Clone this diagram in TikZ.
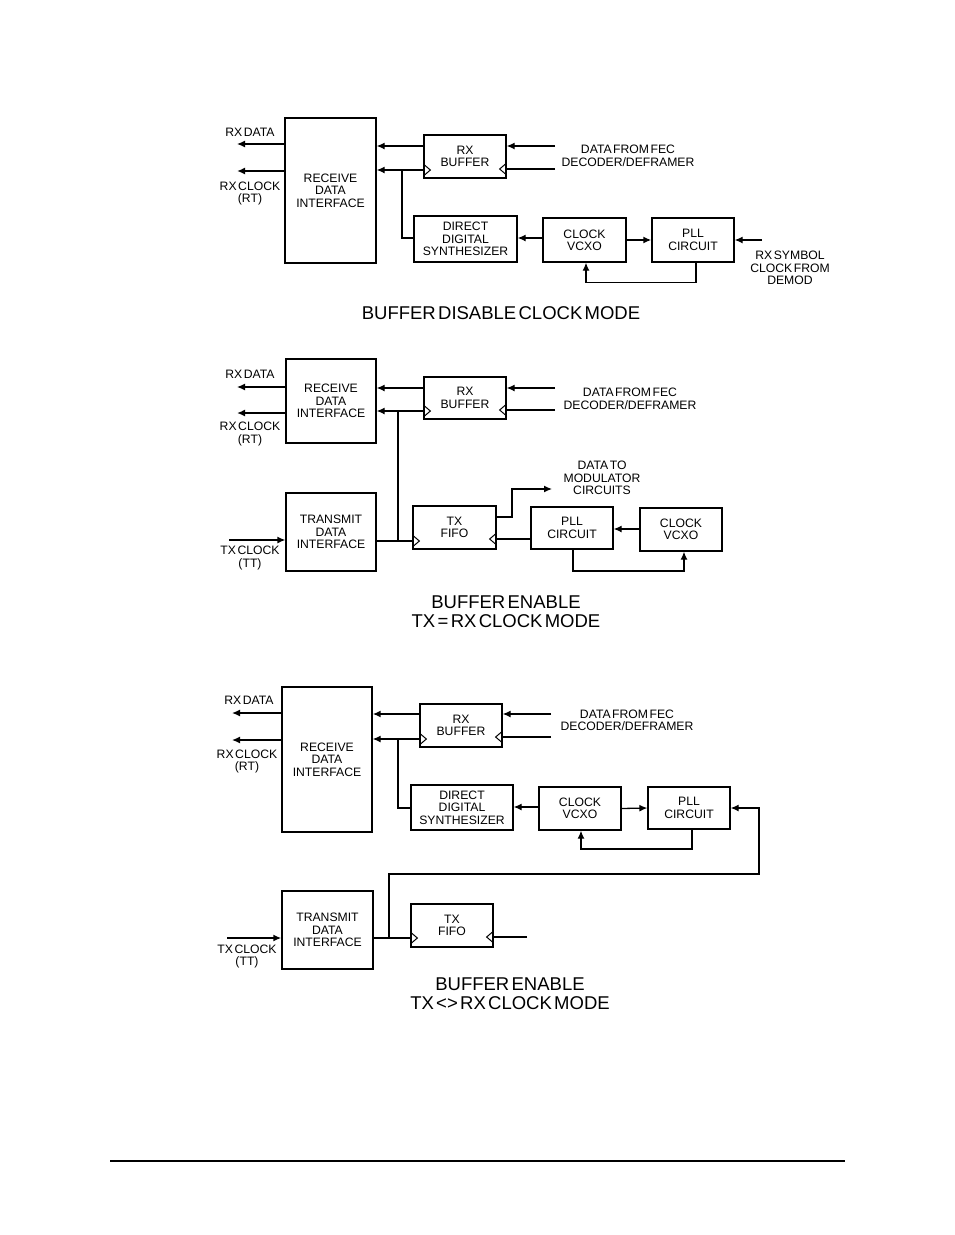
\documentclass[tikz,border=0pt]{standalone}
\usepackage{fontspec}
\setmainfont{Liberation Sans}[WordSpace=0.45]
\usetikzlibrary{arrows.meta}

\begin{document}
\begin{tikzpicture}[x=1pt,y=-1pt,
    blk/.style={draw,line width=1.3pt,inner sep=0pt,align=center,font=\fontsize{12.2}{12.3}\selectfont},
    lbl/.style={inner sep=0pt,align=center,font=\fontsize{12.2}{12.5}\selectfont},
    modetxt/.style={inner sep=0pt,align=center,font=\fontsize{18.5}{18.5}\selectfont},
    wire/.style={line width=1.3pt},
    twire/.style={line width=2.6pt},
    arr/.style={wire,-{Latex[length=8pt,width=7pt]}},
    tarr/.style={twire,-{Latex[length=8pt,width=7pt]}},
    clk/.pic={\draw[line width=1pt] (0,-6) -- (7,0) -- (0,6);},
    ]
  \useasboundingbox (0,0) rectangle (954,1235);

  % buffer disable clock mode
  \node[blk,minimum width=91pt,minimum height=145pt] (rdiA) at (330.5,190.5) {RECEIVE\\DATA\\INTERFACE};
  \node[blk,minimum width=82pt,minimum height=43pt] (rxbufA) at (465,156.5) {RX\\BUFFER};
  \node[blk,minimum width=103pt,minimum height=46pt] (ddsA) at (465.5,239) {DIRECT\\DIGITAL\\SYNTHESIZER};
  \node[blk,minimum width=83pt,minimum height=44pt] (vcxoA) at (584.5,240) {CLOCK\\VCXO};
  \node[blk,minimum width=82pt,minimum height=44pt] (pllA) at (693,240) {PLL\\CIRCUIT};

  \node[lbl] (rxdA) at (250,132.5) {RX DATA};
  \node[lbl] (rxcA) at (250,193.5) {RX CLOCK\\(RT)};
  \node[lbl] (fecA) at (628,156) {DATA FROM FEC\\DECODER/DEFRAMER};
  \node[lbl] (symA) at (790,268) {RX SYMBOL\\CLOCK FROM\\DEMOD};
  \node[modetxt] (modeA) at (501,313) {BUFFER DISABLE CLOCK MODE};

  \coordinate (outA1) at (237,144);
  \coordinate (outA2) at (237,171);
  \coordinate (inA1) at (555,146);
  \coordinate (inA2) at (555,169);
  \coordinate (inA3) at (762,240);
  \coordinate (brA) at (402,170);

  \draw[arr] (rdiA.west |- outA1) -- (outA1);
  \draw[tarr] (rdiA.west |- outA2) -- (outA2);
  \draw[arr] (rxbufA.west |- 0,146) -- (rdiA.east |- 0,146);
  \draw[arr] (rxbufA.west |- 0,170) -- (rdiA.east |- 0,170);
  \draw[wire] (brA) |- (ddsA.west |- 0,238);
  \draw[arr] (inA1) -- (rxbufA.east |- inA1);
  \draw[wire] (inA2) -- (rxbufA.east |- inA2);
  \pic at (rxbufA.west |- 0,170) {clk};
  \pic[xscale=-1] at (rxbufA.east |- inA2) {clk};
  \draw[arr] (vcxoA.west |- 0,238) -- (ddsA.east |- 0,238);
  \draw[tarr] (vcxoA.east) -- (pllA.west);
  \draw[arr] ([xshift=3pt]pllA.south) -- ++(0,20) -| ([xshift=1.5pt]vcxoA.south);
  \draw[arr] (inA3) -- (pllA.east);

  % buffer enable, tx = rx
  \node[blk,minimum width=90pt,minimum height=84pt] (rdiB) at (331,401) {RECEIVE\\DATA\\INTERFACE};
  \node[blk,minimum width=82pt,minimum height=42pt] (rxbufB) at (465,398) {RX\\BUFFER};
  \node[blk,minimum width=90pt,minimum height=78pt] (tdiB) at (331,532) {TRANSMIT\\DATA\\INTERFACE};
  \node[blk,minimum width=83pt,minimum height=43pt] (fifoB) at (454.5,527.5) {TX\\FIFO};
  \node[blk,minimum width=82pt,minimum height=42pt] (pllB) at (572,528) {PLL\\CIRCUIT};
  \node[blk,minimum width=82pt,minimum height=43pt] (vcxoB) at (681,529.5) {CLOCK\\VCXO};

  \node[lbl] (rxdB) at (250,374) {RX DATA};
  \node[lbl] (rxcB) at (250,434) {RX CLOCK\\(RT)};
  \node[lbl] (txcB) at (250,558) {TX CLOCK\\(TT)};
  \node[lbl] (fecB) at (630,399) {DATA FROM FEC\\DECODER/DEFRAMER};
  \node[lbl] (modB) at (602,478) {DATA TO\\MODULATOR\\CIRCUITS};
  \node[modetxt] (modeB) at (506,611.5) {BUFFER ENABLE\\TX = RX CLOCK MODE};

  \coordinate (outB1) at (237,387);
  \coordinate (outB2) at (237,413);
  \coordinate (inB1) at (555,388);
  \coordinate (inB2) at (555,410);
  \coordinate (txinB) at (229,540);
  \coordinate (brB) at (398,411);
  \coordinate (dmodB) at (552,489);

  \draw[arr] (rdiB.west |- outB1) -- (outB1);
  \draw[tarr] (rdiB.west |- outB2) -- (outB2);
  \draw[arr] (rxbufB.west |- 0,388) -- (rdiB.east |- 0,388);
  \draw[arr] (rxbufB.west |- brB) -- (rdiB.east |- brB);
  \draw[wire] (brB) -- (brB |- 0,541);
  \draw[arr] (inB1) -- (rxbufB.east |- inB1);
  \draw[wire] (inB2) -- (rxbufB.east |- inB2);
  \pic at (rxbufB.west |- brB) {clk};
  \pic[xscale=-1] at (rxbufB.east |- inB2) {clk};
  \draw[arr] (txinB) -- (tdiB.west |- txinB);
  \draw[wire] (tdiB.east |- 0,541) -- (fifoB.west |- 0,541);
  \pic at (fifoB.west |- 0,541) {clk};
  \draw[arr] (fifoB.east |- 0,517) -| (512,489) -- (dmodB);
  \draw[wire] (pllB.west |- 0,539) -- (fifoB.east |- 0,539);
  \pic[xscale=-1] at (fifoB.east |- 0,539) {clk};
  \draw[arr] (vcxoB.west |- 0,529) -- (pllB.east |- 0,529);
  \draw[arr] ([xshift=1pt]pllB.south) |- (684,571) -- ([xshift=3pt]vcxoB.south);

  % buffer enable, tx <> rx
  \node[blk,minimum width=90pt,minimum height=145pt] (rdiC) at (327,759.5) {RECEIVE\\DATA\\INTERFACE};
  \node[blk,minimum width=82pt,minimum height=43pt] (rxbufC) at (461,725.5) {RX\\BUFFER};
  \node[blk,minimum width=102pt,minimum height=45pt] (ddsC) at (462,807.5) {DIRECT\\DIGITAL\\SYNTHESIZER};
  \node[blk,minimum width=82pt,minimum height=43pt] (vcxoC) at (580,808.5) {CLOCK\\VCXO};
  \node[blk,minimum width=82pt,minimum height=42pt] (pllC) at (689,808) {PLL\\CIRCUIT};
  \node[blk,minimum width=91pt,minimum height=78pt] (tdiC) at (327.5,930) {TRANSMIT\\DATA\\INTERFACE};
  \node[blk,minimum width=82pt,minimum height=43pt] (fifoC) at (452,925.5) {TX\\FIFO};

  \node[lbl] (rxdC) at (249,700.5) {RX DATA};
  \node[lbl] (rxcC) at (247,761.5) {RX CLOCK\\(RT)};
  \node[lbl] (txcC) at (247,956.5) {TX CLOCK\\(TT)};
  \node[lbl] (fecC) at (627,720.5) {DATA FROM FEC\\DECODER/DEFRAMER};
  \node[modetxt] (modeC) at (510,993.5) {BUFFER ENABLE\\TX <> RX CLOCK MODE};

  \coordinate (outC1) at (232,713);
  \coordinate (outC2) at (232,740);
  \coordinate (inC1) at (551,714);
  \coordinate (inC2) at (551,737);
  \coordinate (txinC) at (227,938);
  \coordinate (brC) at (398,739);
  \coordinate (brC2) at (389,938);
  \coordinate (rtC) at (759,874);
  \coordinate (inC3) at (527,937);

  \draw[arr] (rdiC.west |- outC1) -- (outC1);
  \draw[arr] (rdiC.west |- outC2) -- (outC2);
  \draw[tarr] (rxbufC.west |- 0,714) -- (rdiC.east |- 0,714);
  \draw[arr] (rxbufC.west |- brC) -- (rdiC.east |- brC);
  \draw[wire] (brC) |- (ddsC.west |- 0,808);
  \draw[arr] (inC1) -- (rxbufC.east |- inC1);
  \draw[twire] (inC2) -- (rxbufC.east |- inC2);
  \pic at (rxbufC.west |- brC) {clk};
  \pic[xscale=-1] at (rxbufC.east |- inC2) {clk};
  \draw[arr] (vcxoC.west |- 0,807) -- (ddsC.east |- 0,807);
  \draw[arr] (vcxoC.east) -- (pllC.west);
  \draw[arr] ([xshift=3pt]pllC.south) |- (581,849) -- ([xshift=1pt]vcxoC.south);
  \draw[tarr] (txinC) -- (tdiC.west |- txinC);
  \draw[wire] (tdiC.east |- brC2) -- (fifoC.west |- brC2);
  \pic at (fifoC.west |- brC2) {clk};
  \draw[arr] (brC2) |- (rtC) |- (pllC.east);
  \draw[wire] (inC3) -- (fifoC.east |- inC3);
  \pic[xscale=-1] at (fifoC.east |- inC3) {clk};

  \draw[line width=1.3pt] (110,1161) -- (845,1161);
\end{tikzpicture}
\end{document}
